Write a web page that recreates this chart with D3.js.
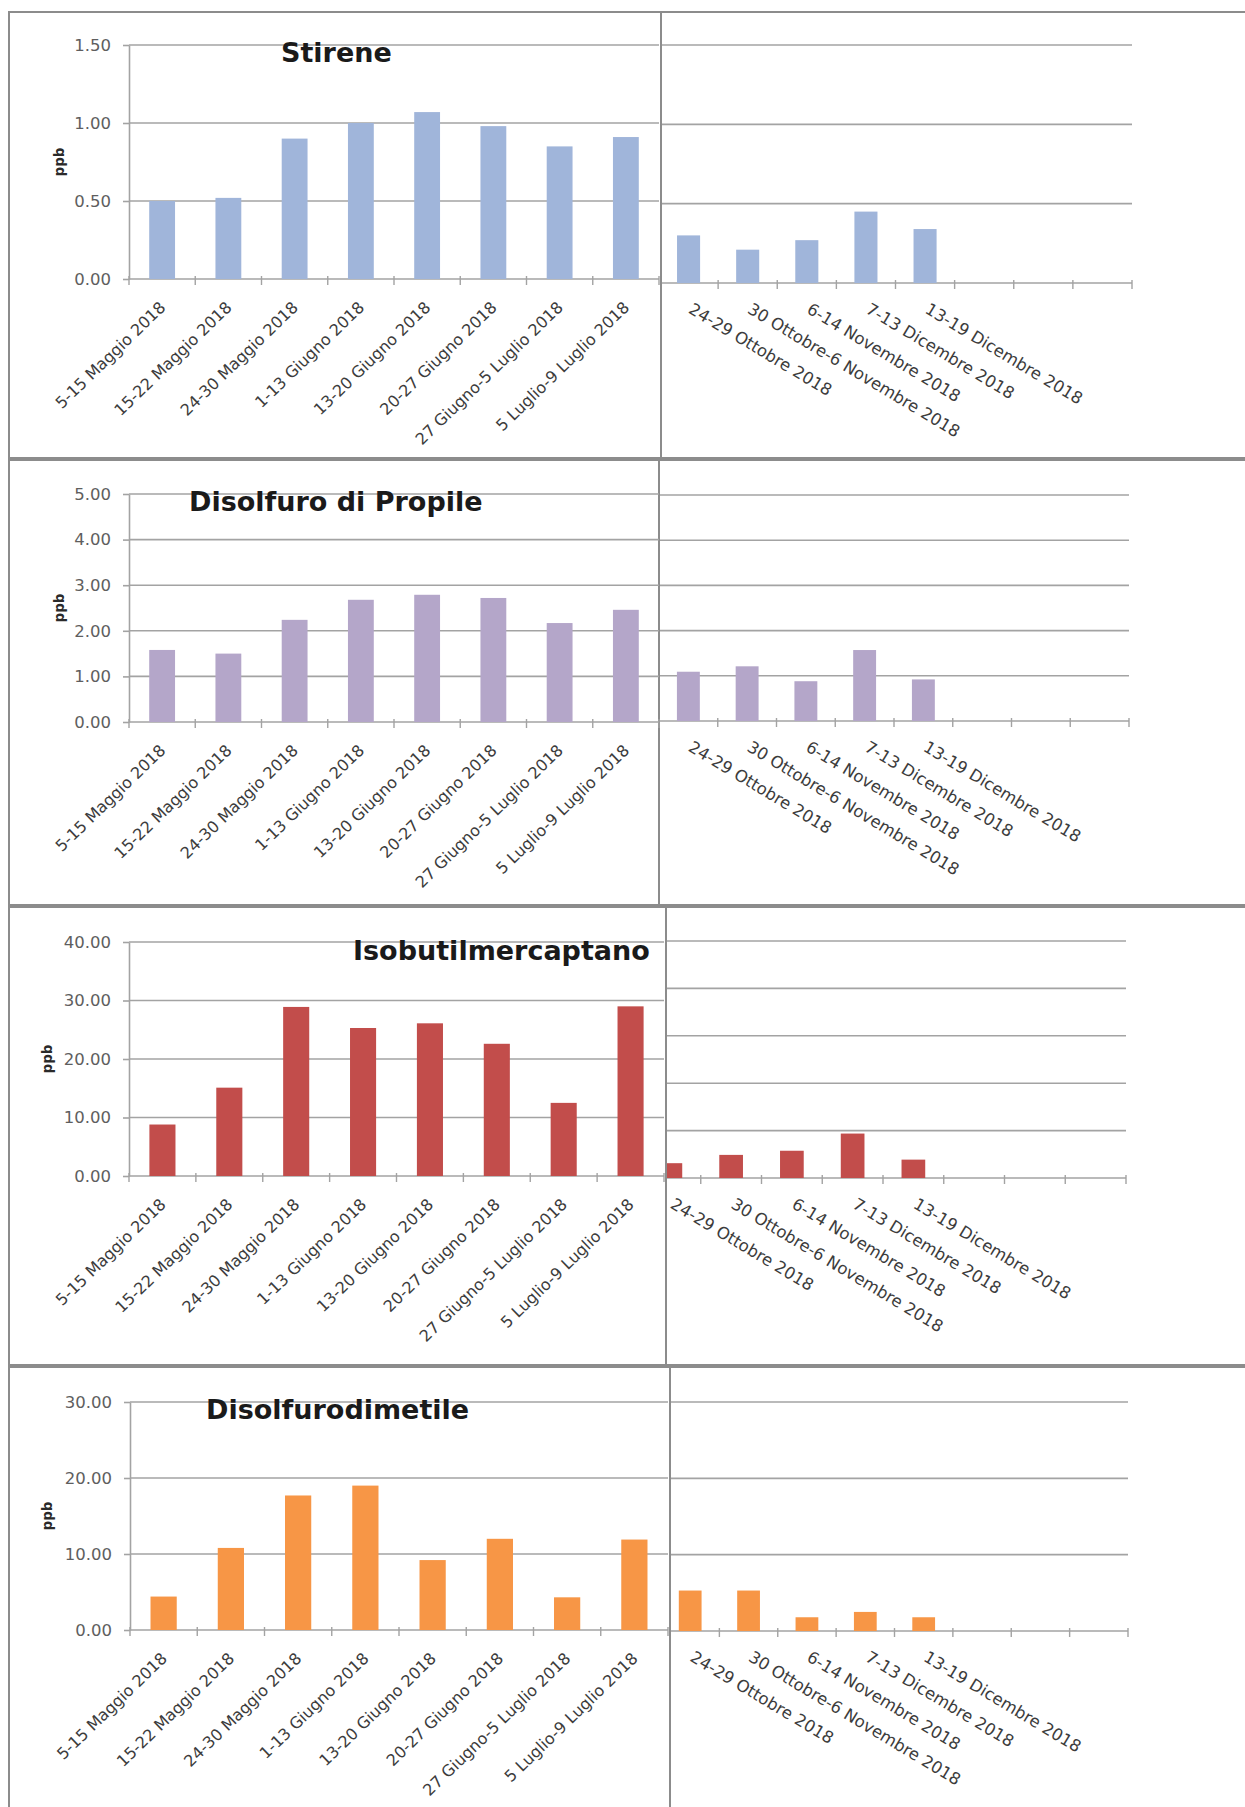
<!DOCTYPE html>
<html>
<head>
<meta charset="utf-8">
<script src="https://cdn.jsdelivr.net/npm/d3@7"></script>
<style>
  body { margin: 0; background: #fff; }
  svg { display: block; }
</style>
</head>
<body>
<div id="chart"></div>
<script>
/* campaign weeks */
var summerWeeks = ['5-15 Maggio 2018', '15-22 Maggio 2018', '24-30 Maggio 2018', '1-13 Giugno 2018',
  '13-20 Giugno 2018', '20-27 Giugno 2018', '27 Giugno-5 Luglio 2018', '5 Luglio-9 Luglio 2018'];
var winterWeeks = ['24-29 Ottobre 2018', '30 Ottobre-6 Novembre 2018', '6-14 Novembre 2018',
  '7-13 Dicembre 2018', '13-19 Dicembre 2018'];
var winterSlots = 8;   // the autumn sheet keeps 3 empty categories after the last week

/* concentrations, ppb */
var stireneSummer  = [0.50, 0.52, 0.90, 1.00, 1.07, 0.98, 0.85, 0.91];
var stireneWinter  = [0.30, 0.21, 0.27, 0.45, 0.34];
var propileSummer  = [1.58, 1.50, 2.24, 2.68, 2.79, 2.72, 2.17, 2.46];
var propileWinter  = [1.09, 1.21, 0.88, 1.57, 0.92];
var isobutilSummer = [8.8, 15.1, 28.9, 25.3, 26.1, 22.6, 12.5, 29.0];
var isobutilWinter = [2.5, 3.9, 4.6, 7.5, 3.1];
var dimetileSummer = [4.4, 10.8, 17.7, 19.0, 9.2, 12.0, 4.3, 11.9];
var dimetileWinter = [5.3, 5.3, 1.8, 2.5, 1.8];

/* y ticks */
var stireneTicks        = [0, 0.5, 1, 1.5];
var propileTicks        = [0, 1, 2, 3, 4, 5];
var isobutilTicks       = [0, 10, 20, 30, 40];
var isobutilWinterTicks = [0, 8, 16, 24, 32, 40];
var dimetileTicks       = [0, 10, 20, 30];

var W = 1245, H = 1807;
var FONT = "'DejaVu Sans', sans-serif";
var FRAME = '#8c8c8c', GRID = '#a3a3a3', TXT = '#3c3c3c', TICKTXT = '#5e5e5e';

/* layout: plot boxes are [xStart, xEnd, yZero, yTop] */
var panels = [
  { title: 'Stirene', color: '#a0b5da',
    summer: stireneSummer, winter: stireneWinter, ticks: stireneTicks, winterTicks: stireneTicks,
    top: 12, bottom: 458, split: 661, titleX: 281, titleY: 62, ppbX: 60,
    left: [129, 659, 279, 45], right: [659, 1132, 283, 45] },
  { title: 'Disolfuro di Propile', color: '#b4a6c9',
    summer: propileSummer, winter: propileWinter, ticks: propileTicks, winterTicks: propileTicks,
    top: 460, bottom: 905, split: 659, titleX: 189, titleY: 511, ppbX: 60,
    left: [129, 659, 722, 494], right: [659, 1129, 721, 495] },
  { title: 'Isobutilmercaptano', color: '#c24d4b',
    summer: isobutilSummer, winter: isobutilWinter, ticks: isobutilTicks, winterTicks: isobutilWinterTicks,
    top: 907, bottom: 1365, split: 666, titleX: 353, titleY: 960, ppbX: 48,
    left: [129, 664, 1176, 942], right: [640, 1126, 1178, 941] },
  { title: 'Disolfurodimetile', color: '#f79646',
    summer: dimetileSummer, winter: dimetileWinter, ticks: dimetileTicks, winterTicks: dimetileTicks,
    top: 1367, bottom: 1830, split: 670, titleX: 206, titleY: 1419, ppbX: 48,
    left: [130, 668, 1630, 1402], right: [661, 1128, 1631, 1402] }
];

var svg = d3.select('#chart').append('svg')
  .attr('width', W).attr('height', H)
  .style('font-family', FONT);

function bars(g, box, values, ticks, color, slots) {
  var x = d3.scaleBand().domain(d3.range(slots)).range([box[0], box[1]])
    .paddingInner(0.61).paddingOuter(0.305);
  var y = d3.scaleLinear().domain([0, d3.max(ticks)]).range([box[2], box[3]]);
  var edge = d3.scaleLinear().domain([0, slots]).range([box[0], box[1]]);

  /* gridlines */
  g.append('g').selectAll('line').data(ticks).join('line')
    .attr('x1', box[0]).attr('x2', box[1])
    .attr('y1', function (d) { return y(d); }).attr('y2', function (d) { return y(d); })
    .attr('stroke', GRID).attr('stroke-width', 1.6);

  g.append('g').selectAll('rect').data(values).join('rect')
    .attr('x', function (d, i) { return x(i); })
    .attr('width', x.bandwidth())
    .attr('y', function (d) { return y(d); })
    .attr('height', function (d) { return y(0) - y(d); })
    .attr('fill', color);

  /* category ticks on the slot edges */
  g.append('g').selectAll('line').data(d3.range(slots + 1)).join('line')
    .attr('x1', edge).attr('x2', edge)
    .attr('y1', y(0) - 3).attr('y2', y(0) + 6)
    .attr('stroke', GRID).attr('stroke-width', 1.4);

  return { x: x, y: y };
}

panels.forEach(function (p) {
  var g = svg.append('g');

  /* ---- autumn chart (right), drawn first so the summer chart overlaps it ---- */
  g.append('rect')
    .attr('x', p.split).attr('y', p.top)
    .attr('width', W + 20 - p.split).attr('height', p.bottom - p.top)
    .attr('fill', '#fff').attr('stroke', FRAME).attr('stroke-width', 2);

  var r = bars(g, p.right, p.winter, p.winterTicks, p.color, winterSlots);
  g.append('g').selectAll('text').data(winterWeeks).join('text')
    .attr('transform', function (d, i) {
      return 'translate(' + (r.x(i) + r.x.bandwidth() / 2 + 5) + ',' + (p.right[2] + 19) + ') rotate(31)';
    })
    .attr('text-anchor', 'start').attr('dominant-baseline', 'hanging')
    .attr('font-size', 16.5).attr('fill', TXT)
    .text(function (d) { return d; });

  /* ---- summer chart (left) ---- */
  g.append('rect')
    .attr('x', 9).attr('y', p.top)
    .attr('width', p.split - 9).attr('height', p.bottom - p.top)
    .attr('fill', '#fff').attr('stroke', FRAME).attr('stroke-width', 2);

  var l = bars(g, p.left, p.summer, p.ticks, p.color, summerWeeks.length);

  var yAxis = g.append('g')
    .attr('transform', 'translate(' + p.left[0] + ',0)')
    .call(d3.axisLeft(l.y).tickValues(p.ticks).tickFormat(d3.format('.2f'))
      .tickSize(6).tickSizeOuter(0).tickPadding(12));
  yAxis.select('.domain').attr('stroke', GRID).attr('stroke-width', 1.6);
  yAxis.selectAll('.tick line').attr('stroke', GRID).attr('stroke-width', 1.6);
  yAxis.selectAll('.tick text')
    .attr('font-family', FONT).attr('font-size', 16.5).attr('fill', TICKTXT);

  g.append('g').selectAll('text').data(summerWeeks).join('text')
    .attr('transform', function (d, i) {
      return 'translate(' + (l.x(i) + l.x.bandwidth() / 2 - 4) + ',' + (p.left[2] + 21) + ') rotate(-44)';
    })
    .attr('text-anchor', 'end').attr('dominant-baseline', 'hanging')
    .attr('font-size', 16).attr('fill', TXT)
    .text(function (d) { return d; });

  g.append('text')
    .attr('transform', 'translate(' + p.ppbX + ',' + (p.left[2] + p.left[3]) / 2 + ') rotate(-90)')
    .attr('text-anchor', 'middle').attr('dominant-baseline', 'middle')
    .attr('font-size', 13.5).attr('font-weight', 'bold').attr('fill', '#2a2a2a')
    .text('ppb');

  g.append('text')
    .attr('x', p.titleX).attr('y', p.titleY)
    .attr('font-size', 27).attr('font-weight', 'bold').attr('fill', '#1a1a1a')
    .text(p.title);
});
</script>
</body>
</html>
